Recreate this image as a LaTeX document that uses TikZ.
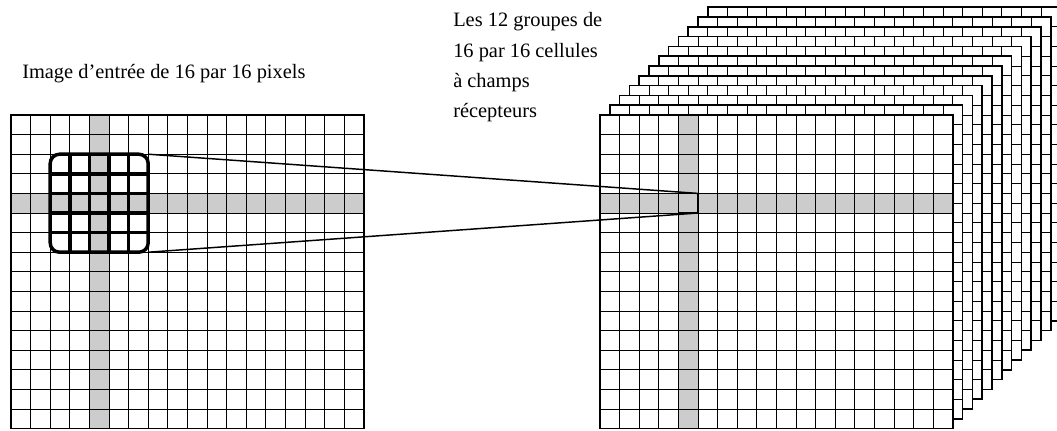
\documentclass[tikz,border=0pt]{standalone}
\usepackage{fontspec}
\setmainfont{Liberation Serif}
\newcommand{\cellgrid}{%
  \foreach \gx in {1,...,17}{\draw[gridline] (\gx,0) -- (\gx,16);}
  \foreach \gy in {1,...,15}{\draw[gridline] (0,\gy) -- (18,\gy);}
  \draw[border] (0,0) rectangle (18,16);}
\begin{document}
\begin{tikzpicture}[x=0.75pt,y=-0.75pt,
  gridline/.style={line width=0.6pt},
  border/.style={line width=1.1pt},
  crossfill/.style={fill=black!20},
  kern/.style={line width=2.6pt},
  link/.style={line width=1.1pt},
  lbl/.style={font=\fontsize{15.3}{22.7}\selectfont, inner sep=0pt, align=left}]
\useasboundingbox (0,0) rectangle (1057,430);
\clip (0,0) rectangle (1057,430);
% back layers of the stack
\foreach \k in {11,10,...,1}{
  \begin{scope}[shift={(600+9.8*\k,115-9.8*\k)}, x=14.7pt, y=-14.7pt]
    \fill[white] (0,0) rectangle (18,16);
    \cellgrid
  \end{scope}
}
% front layer
\begin{scope}[shift={(600,115)}, x=14.7pt, y=-14.7pt]
  \fill[white] (0,0) rectangle (18,16);
  \fill[crossfill] (4,0) rectangle (5,16);
  \fill[crossfill] (0,4) rectangle (18,5);
  \cellgrid
  \node[draw, line width=1.1pt, minimum size=14.7pt, inner sep=0pt, outer sep=0pt] (cell) at (4.5,4.5) {};
\end{scope}
% input image
\begin{scope}[shift={(11,115)}, x=14.7pt, y=-14.7pt]
  \fill[crossfill] (4,0) rectangle (5,16);
  \fill[crossfill] (0,4) rectangle (18,5);
  \cellgrid
  \foreach \i in {3,...,6}{
    \draw[kern] (\i,2) -- (\i,7);
    \draw[kern] (2,\i) -- (7,\i);
  }
  \node[draw, kern, rounded corners=7pt, minimum size=73.5pt, inner sep=0pt, outer sep=0pt] (kernel) at (4.5,4.5) {};
\end{scope}
% connectors
\draw[link] (kernel.north east) -- (cell.north east);
\draw[link] (kernel.south east) -- (cell.south east);
% labels
\node[lbl, anchor=base west] (entree) at (22,78) {Image d’entrée de 16 par 16 pixels};
\node[lbl, anchor=north west] (groupes) at (453,12.5) {Les 12 groupes de\\16 par 16 cellules\\à champs\\récepteurs};
\end{tikzpicture}
\end{document}
